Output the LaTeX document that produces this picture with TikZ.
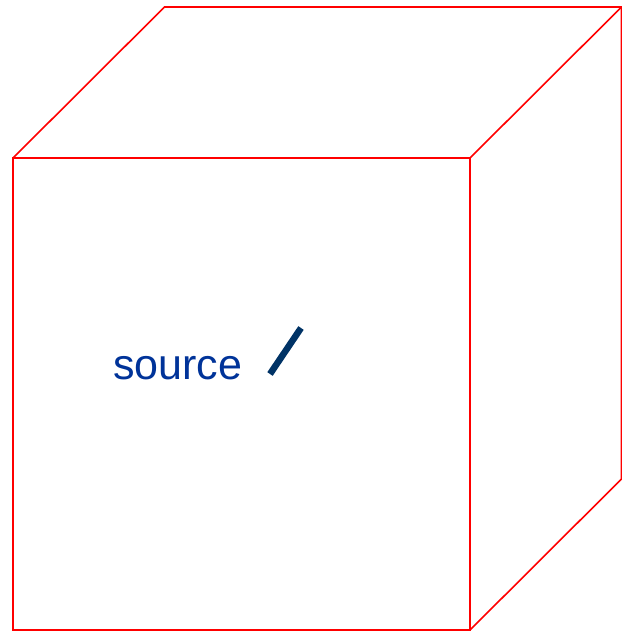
\documentclass[tikz,border=0pt]{standalone}
\usepackage{fontspec}
\setmainfont{Liberation Sans}
\setsansfont{Liberation Sans}
\definecolor{edge}{HTML}{FF0000}
\definecolor{label}{HTML}{003399}
\definecolor{marker}{HTML}{003366}
\usetikzlibrary{positioning, calc}

\begin{document}
\begin{tikzpicture}[x=1pt, y=-1pt, every node/.style={font=\sffamily}]
  \useasboundingbox (0,0) rectangle (621,631);
  \def\dx{151.5}
  \def\dy{-151}
  % front face corners
  \coordinate (ftl) at (13,158);
  \coordinate (ftr) at (470,158);
  \coordinate (fbr) at (470,630);
  \coordinate (fbl) at (13,630);
  % back corners
  \coordinate (btl) at ($(ftl)+(\dx,\dy)$);
  \coordinate (btr) at ($(ftr)+(\dx,\dy)$);
  \coordinate (bbr) at ($(fbr)+(\dx,\dy)$);
  \draw[edge, line width=1.6pt] (ftl) -- (ftr) -- (fbr) -- (fbl) -- cycle;
  \draw[edge, line width=1.6pt] (ftl) -- (btl) -- (btr) -- (ftr);
  \draw[edge, line width=1.6pt] (btr) -- (bbr) -- (fbr);
  % source
  \node[text=label, font=\sffamily\fontsize{43}{50}\selectfont, anchor=base west, inner sep=0pt] (src) at (113,379) {source};
  \coordinate (mk1) at (270,374);
  \coordinate (mk2) at (301,328);
  \draw[marker, line width=6.5pt] (mk1) -- (mk2);
\end{tikzpicture}
\end{document}
